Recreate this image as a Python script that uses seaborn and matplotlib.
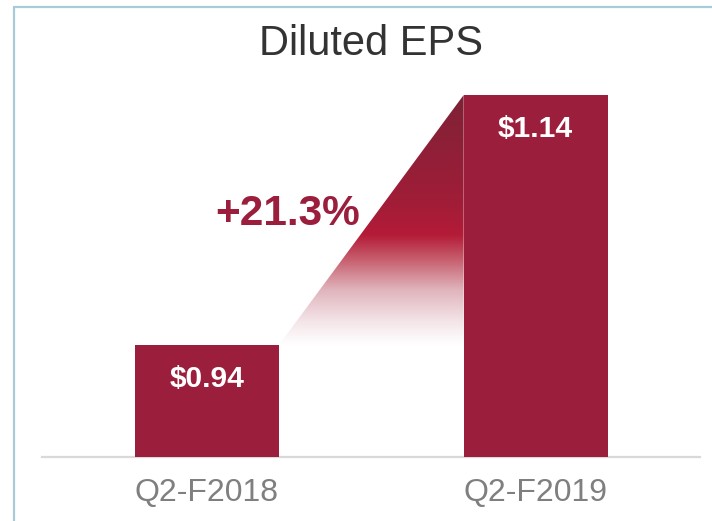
import numpy as np
import pandas as pd
import matplotlib
matplotlib.use("Agg")
import matplotlib.pyplot as plt
import seaborn as sns
from matplotlib.colors import LinearSegmentedColormap
from matplotlib.patches import Polygon
from matplotlib.lines import Line2D

# data
quarters = ["Q2-F2018", "Q2-F2019"]
eps = [0.94, 1.14]
value_labels = ["$0.94", "$1.14"]
growth_label = "+21.3%"
title = "Diluted EPS"

BAR = "#9b1f3c"
sns.set_theme(style="white")
plt.rcParams["font.family"] = ["Liberation Sans", "DejaVu Sans"]

fig = plt.figure(figsize=(7.12, 5.21), dpi=100)
ax = fig.add_axes([42 / 712, 64 / 521, 658 / 712, 397 / 521])

df = pd.DataFrame({"quarter": quarters, "eps": eps})
sns.barplot(data=df, x="quarter", y="eps", color=BAR, saturation=1,
            width=0.438, linewidth=0, ax=ax, zorder=3)

# gradient wedge between the two bars
half = 0.438 / 2
x0, x1 = 0 + half, 1 - half
y0, y1 = eps[0], eps[1]
tri = Polygon([(x0, y0), (x1, y1), (x1, y0)], closed=True,
              transform=ax.transData, facecolor="none", edgecolor="none")
ax.add_patch(tri)
grad_cmap = LinearSegmentedColormap.from_list("wedge", [
    (0.00, "#ffffff"),
    (0.09, "#f4e6e9"),
    (0.22, "#e0b4bc"),
    (0.34, "#c7606f"),
    (0.44, "#b41b37"),
    (0.58, "#a01d38"),
    (1.00, "#7e2236"),
])
grad = np.linspace(0, 1, 256).reshape(-1, 1)
im = ax.imshow(grad, cmap=grad_cmap, origin="lower", aspect="auto",
               extent=[x0, x1, y0, y1], zorder=2, interpolation="bilinear")
im.set_clip_path(tri)
ax.set_xlim(-0.502, 1.5)
ax.set_ylim(0.8504, 0.8504 + 397 / 1250)

# value labels inside bars
for i, (v, lab) in enumerate(zip(eps, value_labels)):
    ax.text(i, v - 0.0334, lab, ha="center", va="baseline", color="white",
            fontsize=21.6, fontweight="bold", zorder=5)

ax.text(0.244, 1.036, growth_label, ha="center", va="baseline", color=BAR,
        fontsize=30.5, fontweight="bold", zorder=5)

# axes styling
for s in ["top", "right", "left"]:
    ax.spines[s].set_visible(False)
ax.spines["bottom"].set_color("#d9d9d9")
ax.spines["bottom"].set_linewidth(1.6)
ax.spines["bottom"].set_zorder(1)
ax.set_yticks([])
ax.set_xlabel("")
ax.set_ylabel("")
ax.tick_params(axis="x", length=0, pad=15, labelsize=23, labelcolor="#7f7f7f")

fig.text(371 / 712, 1 - 55 / 521, title, ha="center", va="baseline",
         fontsize=30, color="#333333")

# frame lines (light blue) on left and top
fig.add_artist(Line2D([14 / 712, 14 / 712], [0, 1 - 7 / 521],
                      transform=fig.transFigure, color="#a9cbd8", lw=1.6))
fig.add_artist(Line2D([14 / 712, 1], [1 - 7 / 521, 1 - 7 / 521],
                      transform=fig.transFigure, color="#a9cbd8", lw=1.6))

fig.savefig("out.png", dpi=100)
